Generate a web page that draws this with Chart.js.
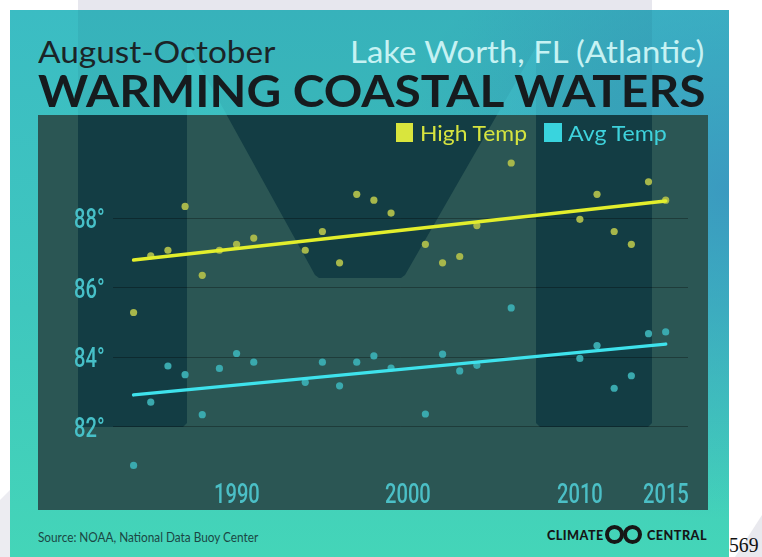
<!DOCTYPE html>
<html><head><meta charset="utf-8">
<script src="https://cdn.jsdelivr.net/npm/chart.js@4.4.1/dist/chart.umd.min.js"></script>
<style>
html,body{margin:0;padding:0;background:#fff;}
#wrap{position:relative;width:762px;height:557px;overflow:hidden;}
.t{position:absolute;white-space:nowrap;line-height:1.2;transform-origin:0 0;left:0;top:0;}
.mk{display:inline-block;width:0;height:0;vertical-align:baseline;}
#c{position:absolute;left:38px;top:88px;}
.sq{position:absolute;}
.ring{position:absolute;width:11px;height:11px;border:4.5px solid #161616;border-radius:50%;}
.tick{font:500 28px Roboto,'Liberation Sans',sans-serif;}
</style></head><body>
<div id="wrap">
<svg width="762" height="557" style="position:absolute;left:0;top:0">
  <defs>
    <linearGradient id="gBase" x1="0" y1="0" x2="0" y2="1">
      <stop offset="0" stop-color="#3bbcc3"/>
      <stop offset="0.55" stop-color="#3fc7be"/>
      <stop offset="1" stop-color="#44d5b8"/>
    </linearGradient>
    <radialGradient id="gBlue" cx="729" cy="190" r="330" gradientUnits="userSpaceOnUse">
      <stop offset="0" stop-color="#3a93c0" stop-opacity="0.85"/>
      <stop offset="0.5" stop-color="#3a93c0" stop-opacity="0.4"/>
      <stop offset="1" stop-color="#3a93c0" stop-opacity="0"/>
    </radialGradient>
    <clipPath id="cardClip"><rect x="10" y="10" width="719" height="547"/></clipPath>
    <clipPath id="panelClip"><rect x="38" y="115" width="670" height="395"/></clipPath>
  </defs>
  <rect x="78" y="0" width="574" height="10" fill="#e7e7ee"/>
  <polygon points="0,500 10,490 10,557 0,557" fill="#ececf1"/>
  <polygon points="735,557 762,515 762,557" fill="#e9e9ee"/>
  <rect x="10" y="10" width="719" height="547" fill="url(#gBase)"/>
  <rect x="10" y="10" width="719" height="547" fill="url(#gBlue)"/>
  <g clip-path="url(#cardClip)">
    <polygon points="78,0 652,0 652,427 536,427 536,47 403,278 317,278 187,43 187,427 78,427" fill="#00283c" fill-opacity="0.06"/>
  </g>
  <rect x="38" y="115" width="670" height="395" fill="#2b5654"/>
  <g clip-path="url(#panelClip)">
    <polygon points="78,0 652,0 652,423 648,427 540,427 536,423 536,47 405,275 401,278 319,278 315,275 187,43 187,423 183,427 82,427 78,423" fill="#133d44"/>
  </g>
</svg>
<canvas id="c" width="690" height="422"></canvas>

<div class="t" data-x="38" data-b="63.3" data-w="237" style="font:400 30px Lato;color:#1b2427">August-October<span class="mk"></span></div>
<div class="t" data-x="350" data-b="63.3" data-w="354" style="font:400 30px Lato;color:#c6f2f3">Lake Worth, FL (Atlantic)<span class="mk"></span></div>
<div class="t" data-x="38" data-b="106.7" data-w="667" style="font:700 44px Lato;color:#161b1e">WARMING COASTAL WATERS<span class="mk"></span></div>

<div class="sq" style="left:396px;top:123px;width:17px;height:19px;background:#d9e53d"></div>
<div class="t" data-x="420" data-b="141" data-w="107" style="font:400 22px Lato;color:#d6e43f">High Temp<span class="mk"></span></div>
<div class="sq" style="left:544px;top:123px;width:18px;height:19px;background:#39d4de"></div>
<div class="t" data-x="568" data-b="141" data-w="99" style="font:400 22px Lato;color:#3ed2dc">Avg Temp<span class="mk"></span></div>

<div class="t" data-x="38" data-b="542" data-w="220" style="font:400 13.5px Lato;color:#1b4744">Source: NOAA, National Data Buoy Center<span class="mk"></span></div>
<div class="t" data-x="546.5" data-b="540" data-w="57" style="font:900 13.5px Lato;color:#161616;letter-spacing:0.5px">CLIMATE<span class="mk"></span></div>
<div class="ring" style="left:605px;top:525px"></div>
<div class="ring" style="left:623px;top:525px"></div>
<div class="t" data-x="646.5" data-b="540" data-w="60" style="font:900 13.5px Lato;color:#161616;letter-spacing:0.5px">CENTRAL<span class="mk"></span></div>
<div class="t" data-x="728.5" data-b="552" data-w="30" style="font:400 21px 'Liberation Serif';color:#111">569<span class="mk"></span></div>
</div>

<script>
// ---- data ----
const years = [1984,1985,1986,1987,1988,1989,1990,1991,1994,1995,1996,1997,1998,1999,2001,2002,2003,2004,2006,2010,2011,2012,2013,2014,2015];
const highTemp = [85.29,86.92,87.08,88.34,86.36,87.08,87.25,87.43,87.08,87.62,86.72,88.69,88.52,88.15,87.25,86.72,86.90,87.79,89.59,87.97,88.69,87.62,87.25,89.05,88.52];
const avgTemp = [80.89,82.71,83.75,83.50,82.35,83.68,84.11,83.86,83.28,83.86,83.18,83.86,84.04,83.69,82.37,84.09,83.61,83.77,85.42,83.97,84.34,83.11,83.47,84.68,84.73];
const trendYears = [1984, 2015];
const highTrend = [86.80, 88.50];
const avgTrend = [82.92, 84.38];
const xTickYears = [1990, 2000, 2010, 2015];
const yTickValues = [82, 84, 86, 88];

const CANVAS_LEFT = 38, CANVAS_TOP = 88;
const toPts = (xs, ys) => xs.map((x, i) => ({x: x, y: ys[i]}));

// Tick labels as real HTML text, positioned through the chart's own scales
const tickLabelPlugin = {
  id: 'htmlTicks',
  afterRender(chart) {
    const wrap = document.getElementById('wrap');
    wrap.querySelectorAll('.tick').forEach(e => e.remove());
    const mkLabel = (txt, color) => {
      const d = document.createElement('div');
      d.className = 't tick';
      d.style.color = color;
      d.innerHTML = txt + '<span class="mk"></span>';
      wrap.appendChild(d);
      return d;
    };
    const sx = 0.72;
    chart.scales.x.ticks.forEach(t => {
      const d = mkLabel(String(t.value), '#4bbfc6');
      const px = chart.scales.x.getPixelForValue(t.value) + CANVAS_LEFT;
      const w = d.offsetWidth * sx;
      d.style.left = (px - w / 2) + 'px';
      d.style.top = (503 - d.querySelector('.mk').offsetTop) + 'px';
      d.style.transform = 'scaleX(' + sx + ')';
    });
    const rightEdge = chart.chartArea.left + CANVAS_LEFT - 8;
    chart.scales.y.ticks.forEach(t => {
      const d = mkLabel(t.value + '°', '#47c0c8');
      const py = chart.scales.y.getPixelForValue(t.value) + CANVAS_TOP;
      const w = d.offsetWidth * sx;
      d.style.left = (rightEdge - w) + 'px';
      d.style.top = (py + 10 - d.querySelector('.mk').offsetTop) + 'px';
      d.style.transform = 'scaleX(' + sx + ')';
    });
  }
};

new Chart(document.getElementById('c'), {
  type: 'scatter',
  data: {
    datasets: [
      {label: 'High Temp trend', data: toPts(trendYears, highTrend), showLine: true, borderColor: '#e2ee2c', borderWidth: 3.5, pointRadius: 0, order: 0, borderCapStyle: 'round'},
      {label: 'Avg Temp trend', data: toPts(trendYears, avgTrend), showLine: true, borderColor: '#3ee2ec', borderWidth: 3.5, pointRadius: 0, order: 0, borderCapStyle: 'round'},
      {label: 'High Temp', data: toPts(years, highTemp), backgroundColor: '#a7b74b', borderWidth: 0, pointRadius: 3.6, order: 1},
      {label: 'Avg Temp', data: toPts(years, avgTemp), backgroundColor: '#3aa9ae', borderWidth: 0, pointRadius: 3.6, order: 1}
    ]
  },
  plugins: [tickLabelPlugin],
  options: {
    responsive: false,
    animation: false,
    layout: {padding: {top: 26, right: 40, bottom: 0, left: 0}},
    plugins: {legend: {display: false}, tooltip: {enabled: false}},
    scales: {
      x: {
        type: 'linear', min: 1982.8, max: 2016.3,
        afterBuildTicks: s => { s.ticks = xTickYears.map(v => ({value: v})); },
        afterFit: s => { s.height = 31; },
        grid: {display: false},
        border: {display: false},
        ticks: {display: false}
      },
      y: {
        min: 80.5, max: 91,
        afterBuildTicks: s => { s.ticks = yTickValues.map(v => ({value: v})); },
        afterFit: s => { s.width = 75; },
        grid: {color: 'rgba(0,0,0,0.3)', lineWidth: 1, drawTicks: false},
        border: {display: false},
        ticks: {display: false}
      }
    }
  }
});

function placeAll() {
  document.querySelectorAll('.t[data-w]').forEach(el => {
    const mk = el.querySelector('.mk');
    el.style.transform = 'none';
    const w = el.offsetWidth;
    const s = parseFloat(el.dataset.w) / w;
    el.style.left = el.dataset.x + 'px';
    el.style.top = (parseFloat(el.dataset.b) - mk.offsetTop) + 'px';
    el.style.transform = 'scaleX(' + s + ')';
  });
}
placeAll();
if (document.fonts && document.fonts.ready) document.fonts.ready.then(placeAll);
</script>
</body></html>
